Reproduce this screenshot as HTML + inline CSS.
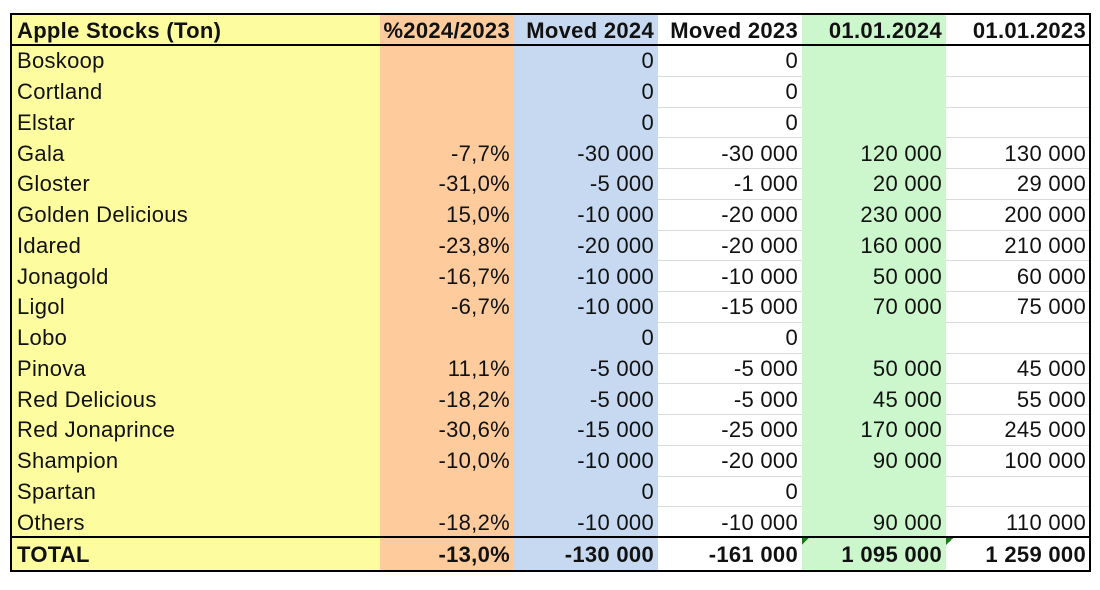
<!DOCTYPE html>
<html><head><meta charset="utf-8"><style>
body{margin:0;width:1100px;height:590px;background:#fff;position:relative;overflow:hidden;font-family:"Liberation Sans",Arial,sans-serif;}
.c{position:absolute;box-sizing:border-box;font-size:22px;letter-spacing:0.3px;line-height:1;display:flex;align-items:center;padding:2px 4px 0 6px;color:#111;white-space:nowrap;}
.r{justify-content:flex-end;}
.b{font-weight:bold;}
.bg{position:absolute;}
.h{position:absolute;height:1px;background:#d9d9d9;}
</style></head><body>
<div id="t"></div>
<script>
const fruits=["Boskoop","Cortland","Elstar","Gala","Gloster","Golden Delicious","Idared","Jonagold","Ligol","Lobo","Pinova","Red Delicious","Red Jonaprince","Shampion","Spartan","Others"];
const pct=["","","","-7,7%","-31,0%","15,0%","-23,8%","-16,7%","-6,7%","","11,1%","-18,2%","-30,6%","-10,0%","","-18,2%"];
const moved24=["0","0","0","-30 000","-5 000","-10 000","-20 000","-10 000","-10 000","0","-5 000","-5 000","-15 000","-10 000","0","-10 000"];
const moved23=["0","0","0","-30 000","-1 000","-20 000","-20 000","-10 000","-15 000","0","-5 000","-5 000","-25 000","-20 000","0","-10 000"];
const s24=["","","","120 000","20 000","230 000","160 000","50 000","70 000","","50 000","45 000","170 000","90 000","","90 000"];
const s23=["","","","130 000","29 000","200 000","210 000","60 000","75 000","","45 000","55 000","245 000","100 000","","110 000"];
const headers=["Apple Stocks (Ton)","%2024/2023","Moved 2024","Moved 2023","01.01.2024","01.01.2023"];
const totals=["TOTAL","-13,0%","-130 000","-161 000","1 095 000","1 259 000"];
const xs=[11,380,514,658,802,946,1090];
const bgs=["#fdfd9f","#fdcb9c","#c6d9f0","#fff","#ccf7cc","#fff"];
const t=document.getElementById('t');
function add(cls,x,y,w,h,txt,bg){const d=document.createElement('div');d.className=cls;d.style.cssText=`left:${x}px;top:${y}px;width:${w}px;height:${h}px;`+(bg?`background:${bg};`:'');if(txt!==undefined)d.textContent=txt;t.appendChild(d);return d;}
for(let i=0;i<6;i++){const d=add('bg',xs[i],14,xs[i+1]-xs[i],557,undefined,bgs[i]);

}
const top0=45,rh=30.75;
for(let r=1;r<16;r++){for(const ci of [3,5]){const y=Math.round(top0+r*rh);const l=add('h',xs[ci],y,xs[ci+1]-xs[ci],1);

}}
for(let i=0;i<6;i++){const c=add('c b'+(i?' r':''),xs[i],14,xs[i+1]-xs[i],31,headers[i]);

}
const cols=[fruits,pct,moved24,moved23,s24,s23];
for(let r=0;r<16;r++){for(let i=0;i<6;i++){const y=top0+r*rh;const c=add('c'+(i?' r':''),xs[i],y,xs[i+1]-xs[i],rh,cols[i][r]);

}}
for(let i=0;i<6;i++){const c=add('c b'+(i?' r':''),xs[i],537,xs[i+1]-xs[i],34,totals[i]);

}
const lines=[[11,44,1079,2],[11,536,1079,2]];
for(const [x,y,w,h] of lines){const l=add('bg',x,y,w,h,undefined,'#000');

}
const bd=add('bg',10,13,1081,559);bd.style.border='2px solid #000';bd.style.boxSizing='border-box';


for(const x of [802,946]){const tri=add('bg',x,538,7,7);tri.style.background='linear-gradient(135deg,#1a7a1a 50%,transparent 50%)';

}
</script>
</body></html>
